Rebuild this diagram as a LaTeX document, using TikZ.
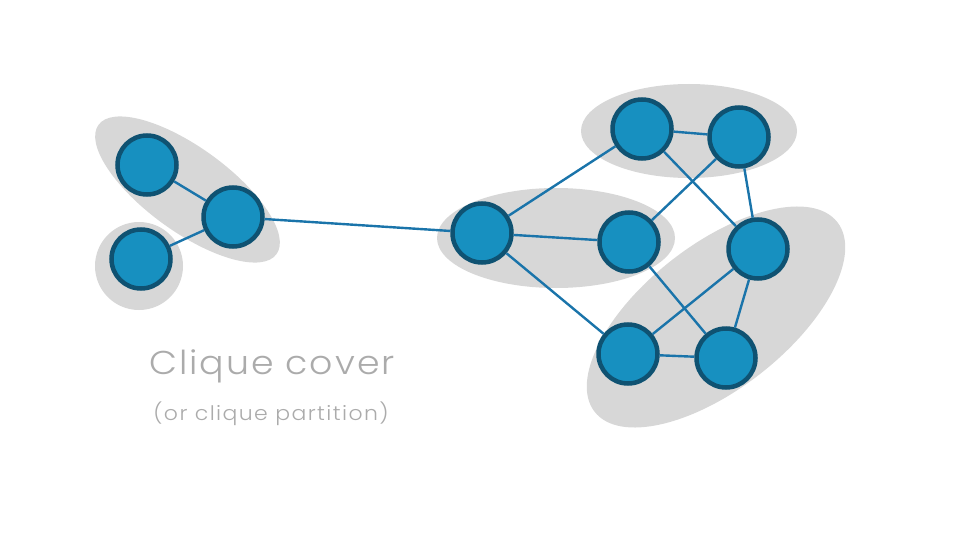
\documentclass[tikz,border=0pt]{standalone}
\usepackage{fontspec}
\setmainfont{Poppins Light}
\newfontfamily\capfont{Poppins Light}[FakeStretch=1.1,LetterSpace=6]
\newfontfamily\subfont{Poppins Light}[FakeStretch=1.1,LetterSpace=7]
\begin{document}
\begin{tikzpicture}[x=1pt,y=1pt,
  vert/.style={circle,draw=nodeborder,fill=nodefill,line width=4.5pt,minimum size=59pt,inner sep=0pt},
  edge/.style={draw=edgecol,line width=2.4pt},
  blob/.style={fill=blobgray}]
\definecolor{nodefill}{HTML}{1790C0}
\definecolor{nodeborder}{HTML}{0F5272}
\definecolor{edgecol}{HTML}{1A74AA}
\definecolor{blobgray}{HTML}{D7D7D7}
\definecolor{textgray}{HTML}{ABABAB}
\useasboundingbox (0,0) rectangle (960,-540);
% clique blobs
\fill[blob,rotate around={-36:(187.5,-189.5)}] (187.5,-189.5) ellipse [x radius=110, y radius=42];
\fill[blob] (139,-266) ellipse [x radius=44, y radius=44];
\fill[blob] (556,-238) ellipse [x radius=119, y radius=50];
\fill[blob] (689,-131) ellipse [x radius=108, y radius=47];
\fill[blob,rotate around={38:(716,-317)}] (716,-317) ellipse [x radius=154, y radius=72];
% vertices
\node[vert] (A) at (147,-165) {};
\node[vert] (B) at (233,-217) {};
\node[vert] (C) at (141,-259) {};
\node[vert] (D) at (482,-233) {};
\node[vert] (E) at (629,-242) {};
\node[vert] (F) at (642,-129) {};
\node[vert] (G) at (739,-137) {};
\node[vert] (H) at (758,-249) {};
\node[vert] (I) at (628,-354) {};
\node[vert] (J) at (726,-358) {};
% edges
\path[edge] (A) -- (B);
\path[edge] (C) -- (B);
\path[edge] (B) -- (D);
\path[edge] (D) -- (F);
\path[edge] (D) -- (E);
\path[edge] (D) -- (I);
\path[edge] (F) -- (G);
\path[edge] (F) -- (H);
\path[edge] (G) -- (E);
\path[edge] (G) -- (H);
\path[edge] (E) -- (J);
\path[edge] (H) -- (I);
\path[edge] (H) -- (J);
\path[edge] (I) -- (J);
% text
\node[anchor=base,text=textgray,font=\capfont\fontsize{33}{33}\selectfont,inner sep=0pt] (t1) at (272,-374) {Clique cover};
\node[anchor=base,text=textgray,font=\subfont\fontsize{20}{20}\selectfont,inner sep=0pt] (t2) at (271,-420) {(or clique partition)};
\end{tikzpicture}
\end{document}
